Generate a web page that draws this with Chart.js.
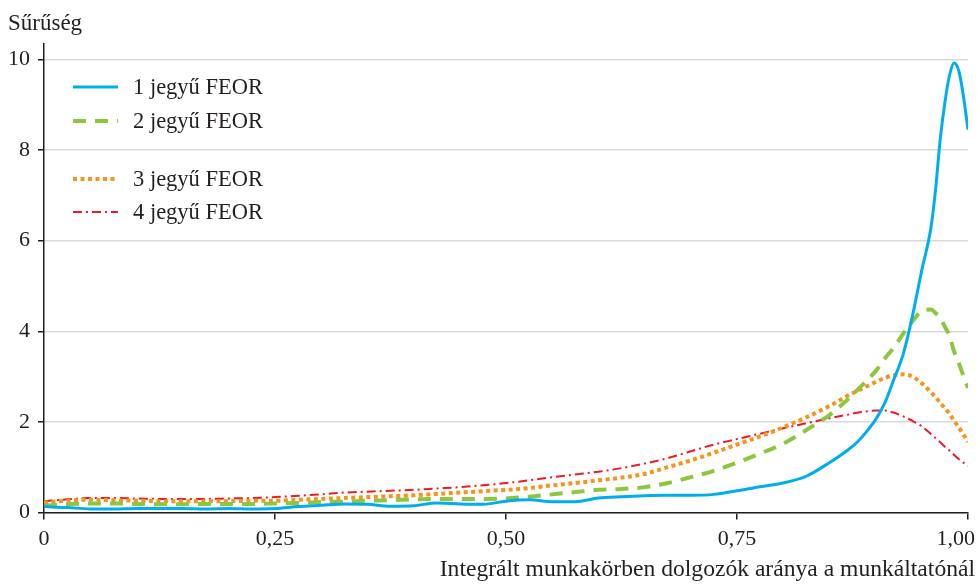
<!DOCTYPE html>
<html>
<head>
<meta charset="utf-8">
<script src="https://cdn.jsdelivr.net/npm/chart.js@4.4.1/dist/chart.umd.min.js"></script>
<style>
  html, body { margin: 0; padding: 0; background: #fff; }
  #wrap { width: 977px; height: 584px; }
</style>
</head>
<body>
<div id="wrap"><canvas id="chart" width="977" height="584"></canvas></div>
<script>
// values
const xValues = [0, 0.025, 0.05, 0.075, 0.1, 0.125, 0.15, 0.175, 0.2, 0.225, 0.25, 0.275, 0.3, 0.325, 0.35, 0.375, 0.4, 0.425, 0.45, 0.475,
  0.5, 0.525, 0.55, 0.575, 0.6, 0.625, 0.65, 0.675, 0.7, 0.725, 0.75, 0.775, 0.8, 0.825, 0.85, 0.87, 0.88, 0.89, 0.9, 0.91,
  0.92, 0.93, 0.94, 0.95, 0.96, 0.965, 0.97, 0.975, 0.98, 0.985, 0.99, 0.995, 1.0];

const feor1 = [0.13, 0.11, 0.08, 0.08, 0.09, 0.09, 0.09, 0.08, 0.09, 0.08, 0.09, 0.13, 0.16, 0.19, 0.18, 0.14, 0.15, 0.21, 0.19, 0.18,
  0.25, 0.28, 0.24, 0.24, 0.32, 0.35, 0.37, 0.38, 0.38, 0.40, 0.48, 0.57, 0.65, 0.80, 1.10, 1.38, 1.55, 1.78, 2.05, 2.42,
  2.95, 3.50, 4.35, 5.35, 6.30, 7.15, 8.25, 9.05, 9.65, 9.92, 9.75, 9.20, 8.45];

const feor2 = [0.15, 0.18, 0.20, 0.20, 0.19, 0.18, 0.18, 0.19, 0.19, 0.19, 0.20, 0.21, 0.23, 0.24, 0.26, 0.27, 0.29, 0.30, 0.30, 0.30,
  0.31, 0.35, 0.40, 0.45, 0.50, 0.52, 0.56, 0.65, 0.78, 0.92, 1.10, 1.30, 1.52, 1.82, 2.15, 2.50, 2.70, 2.90, 3.12, 3.40,
  3.65, 3.95, 4.22, 4.45, 4.48, 4.40, 4.30, 4.10, 3.90, 3.55, 3.30, 3.02, 2.75];

const feor3 = [0.22, 0.26, 0.28, 0.27, 0.26, 0.25, 0.25, 0.25, 0.25, 0.26, 0.26, 0.28, 0.30, 0.32, 0.34, 0.36, 0.38, 0.41, 0.44, 0.47,
  0.50, 0.54, 0.60, 0.65, 0.71, 0.77, 0.85, 1.00, 1.15, 1.32, 1.50, 1.68, 1.88, 2.10, 2.35, 2.58, 2.68, 2.78, 2.88, 2.97,
  3.03, 3.05, 3.00, 2.85, 2.65, 2.54, 2.42, 2.30, 2.18, 2.02, 1.88, 1.72, 1.56];

const feor4 = [0.25, 0.29, 0.32, 0.32, 0.31, 0.30, 0.30, 0.30, 0.31, 0.32, 0.34, 0.37, 0.40, 0.44, 0.46, 0.48, 0.50, 0.53, 0.56, 0.60,
  0.65, 0.71, 0.78, 0.84, 0.90, 0.98, 1.08, 1.20, 1.35, 1.50, 1.62, 1.74, 1.86, 1.97, 2.08, 2.16, 2.20, 2.23, 2.25, 2.25,
  2.20, 2.12, 2.02, 1.90, 1.73, 1.64, 1.55, 1.45, 1.37, 1.27, 1.18, 1.10, 1.03];

const seriesNames = ['1 jegyű FEOR', '2 jegyű FEOR', '3 jegyű FEOR', '4 jegyű FEOR'];
const xTickValues = [0, 0.25, 0.5, 0.75, 1];
const xTickLabels = ['0', '0,25', '0,50', '0,75', '1,00'];
const yTickValues = [0, 2, 4, 6, 8, 10];
const yTitle = 'Sűrűség';
const xTitle = 'Integrált munkakörben dolgozók aránya a munkáltatónál';

const FONT = "'Liberation Serif', 'Times New Roman', serif";
const TEXT = '#231f20';

function points(ys) {
    return xValues.map((x, i) => ({ x: x, y: ys[i] }));
}

const styles = [
    { color: '#00aeef', width: 3, dash: [] },
    { color: '#8dc63f', width: 4, dash: [13, 9] },
    { color: '#f7941d', width: 4, dash: [4, 3.5] },
    { color: '#ed1c24', width: 2, dash: [9, 4, 2, 4] }
];

const allSeries = [feor1, feor2, feor3, feor4];

// titles + legend drawn on the canvas
const extras = {
    id: 'extras',
    beforeDraw(chart) {
        // last x label hugs the right edge like in the original
        const items = chart.scales.x.getLabelItems();
        const last = items[items.length - 1];
        if (last) {
            last.options.textAlign = 'right';
            last.options.translation[0] = chart.chartArea.right + 7;
        }
    },
    afterDraw(chart) {
        const ctx = chart.ctx;
        ctx.save();
        ctx.fillStyle = TEXT;
        ctx.font = '23px ' + FONT;
        ctx.textBaseline = 'alphabetic';
        ctx.textAlign = 'left';
        ctx.fillText(yTitle, 8, 30);
        ctx.font = '23.6px ' + FONT;
        ctx.textAlign = 'right';
        ctx.fillText(xTitle, 975, 576);

        // legend
        const rows = [87, 121, 179, 212];
        ctx.font = '22.5px ' + FONT;
        ctx.textAlign = 'left';
        ctx.textBaseline = 'middle';
        chart.data.datasets.forEach((ds, i) => {
            const y = rows[i];
            ctx.beginPath();
            ctx.strokeStyle = ds.borderColor;
            ctx.lineWidth = ds.borderWidth;
            ctx.setLineDash(ds.borderDash || []);
            ctx.lineCap = 'butt';
            ctx.moveTo(73, y);
            ctx.lineTo(118, y);
            ctx.stroke();
            ctx.setLineDash([]);
            ctx.fillStyle = TEXT;
            ctx.fillText(ds.label, 133, y + 1);
        });
        ctx.restore();
    }
};

const ctx = document.getElementById('chart');
new Chart(ctx, {
    type: 'line',
    data: {
        datasets: allSeries.map((s, i) => ({
            label: seriesNames[i],
            data: points(s),
            borderColor: styles[i].color,
            borderWidth: styles[i].width,
            borderDash: styles[i].dash,
            borderCapStyle: 'butt',
            pointRadius: 0,
            fill: false,
            cubicInterpolationMode: 'monotone'
        }))
    },
    options: {
        responsive: false,
        animation: false,
        devicePixelRatio: 1,
        layout: { padding: { top: 44, right: 9, left: 0, bottom: 0 } },
        plugins: {
            legend: { display: false },
            tooltip: { enabled: false }
        },
        scales: {
            x: {
                type: 'linear',
                min: 0,
                max: 1,
                afterBuildTicks(scale) {
                    scale.ticks = xTickValues.map(v => ({ value: v }));
                },
                afterFit(scale) {
                    scale.height = 71.5;
                    scale.paddingLeft = 0;
                    scale.paddingRight = 0;
                },
                ticks: {
                    color: TEXT,
                    font: { family: FONT, size: 22 },
                    padding: 7,
                    maxRotation: 0,
                    autoSkip: false,
                    callback: (v, i) => xTickLabels[i]
                },
                grid: {
                    drawOnChartArea: false,
                    tickColor: TEXT,
                    tickLength: 7,
                    lineWidth: 1.5
                },
                border: { color: TEXT, width: 1.5 }
            },
            y: {
                min: 0,
                max: 10.34,
                afterBuildTicks(scale) {
                    scale.ticks = yTickValues.map(v => ({ value: v }));
                },
                afterFit(scale) {
                    scale.width = 44;
                },
                ticks: {
                    color: TEXT,
                    font: { family: FONT, size: 22 },
                    padding: 8,
                    autoSkip: false
                },
                grid: {
                    color: '#d9d9d9',
                    lineWidth: 1.5,
                    tickColor: TEXT,
                    tickLength: 6
                },
                border: { color: TEXT, width: 1.5 }
            }
        }
    },
    plugins: [extras]
});
</script>
</body>
</html>
